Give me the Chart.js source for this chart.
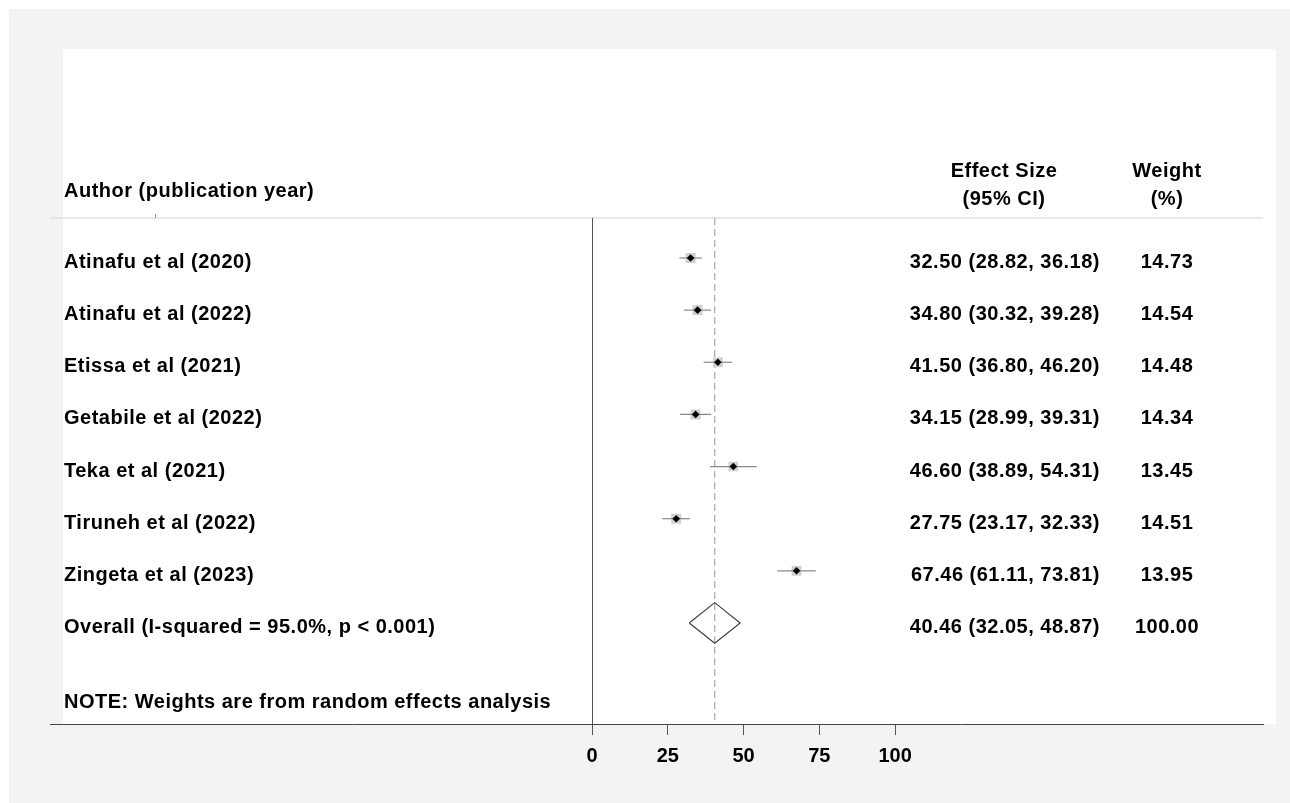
<!DOCTYPE html>
<html>
<head>
<meta charset="utf-8">
<title>Forest plot</title>
<script src="https://cdn.jsdelivr.net/npm/chart.js@4"></script>
<style>
  html, body { margin: 0; padding: 0; background: #ffffff; }
  canvas { display: block; }
</style>
</head>
<body>
<canvas id="visualization" width="1290" height="803"></canvas>
<script>
// study data
var authors = [
    'Atinafu et al (2020)',
    'Atinafu et al (2022)',
    'Etissa et al (2021)',
    'Getabile et al (2022)',
    'Teka et al (2021)',
    'Tiruneh et al (2022)',
    'Zingeta et al (2023)'
];
var estimates = [32.50, 34.80, 41.50, 34.15, 46.60, 27.75, 67.46];
var lowerCI   = [28.82, 30.32, 36.80, 28.99, 38.89, 23.17, 61.11];
var upperCI   = [36.18, 39.28, 46.20, 39.31, 54.31, 32.33, 73.81];
var weights   = [14.73, 14.54, 14.48, 14.34, 13.45, 14.51, 13.95];

var overallLabel = 'Overall (I-squared = 95.0%, p < 0.001)';
var overallEst = 40.46;
var overallLow = 32.05;
var overallHigh = 48.87;
var overallWeight = 100.00;

var noteText = 'NOTE: Weights are from random effects analysis';
var tickValues = [0, 25, 50, 75, 100];

// layout helpers
var FONT = '"Liberation Sans", Arial, Helvetica, sans-serif';
var Y_MIN = -0.767, Y_MAX = 8.938;
var overallRow = authors.length;
var noteRow = 8.48;

// build datasets
var datasets = [];

datasets.push({
    type: 'line',
    data: [{x: overallEst, y: Y_MIN}, {x: overallEst, y: Y_MAX}],
    borderColor: '#a9a9a9',
    borderWidth: 1.2,
    borderDash: [7, 4],
    pointRadius: 0,
    order: 5
});

datasets.push({
    type: 'scatter',
    data: estimates.map(function(v, i) { return {x: v, y: i}; }),
    pointStyle: 'rect',
    pointRadius: weights.map(function(w) { return Math.sqrt(w) * 1.85; }),
    backgroundColor: '#d0d0d0',
    borderWidth: 0,
    order: 4
});

estimates.forEach(function(v, i) {
    datasets.push({
        type: 'line',
        data: [{x: lowerCI[i], y: i}, {x: upperCI[i], y: i}],
        borderColor: '#8a8a8a',
        borderWidth: 1.2,
        pointRadius: 0,
        order: 3
    });
});

datasets.push({
    type: 'scatter',
    data: estimates.map(function(v, i) { return {x: v, y: i}; }),
    pointStyle: 'rectRot',
    pointRadius: 3.8,
    backgroundColor: '#000000',
    borderWidth: 0,
    order: 2
});

var dh = 0.39;
datasets.push({
    type: 'line',
    data: [
        {x: overallLow, y: overallRow},
        {x: overallEst, y: overallRow - dh},
        {x: overallHigh, y: overallRow},
        {x: overallEst, y: overallRow + dh},
        {x: overallLow, y: overallRow}
    ],
    borderColor: '#3a3a3a',
    borderWidth: 1.1,
    pointRadius: 0,
    fill: false,
    order: 1
});

var backdrop = {
    id: 'backdrop',
    beforeDraw: function(chart) {
        var ctx = chart.ctx;
        var a = chart.chartArea;
        ctx.save();
        ctx.fillStyle = '#ffffff';
        ctx.fillRect(0, 0, chart.width, chart.height);
        ctx.fillStyle = '#f3f3f3';
        ctx.fillRect(9, 9, chart.width - 9, chart.height - 9);
        ctx.fillStyle = '#ffffff';
        ctx.fillRect(63, 49, 1276 - 63, a.bottom - 49);
        // header rule
        ctx.strokeStyle = '#e2e2e2';
        ctx.lineWidth = 1.5;
        ctx.beginPath();
        ctx.moveTo(a.left, a.top);
        ctx.lineTo(a.right, a.top);
        ctx.stroke();
        ctx.strokeStyle = '#9a9a9a';
        ctx.lineWidth = 1;
        ctx.beginPath();
        ctx.moveTo(155.5, a.top - 4);
        ctx.lineTo(155.5, a.top);
        ctx.stroke();
        ctx.restore();
    }
};

var tableText = {
    id: 'tableText',
    afterDraw: function(chart) {
        var ctx = chart.ctx;
        var a = chart.chartArea;
        var ys = chart.scales.y;
        var esRight = 1100, wCenter = 1167, esCenter = 1004;
        ctx.save();
        ctx.fillStyle = '#000000';
        ctx.textBaseline = 'alphabetic';

        ctx.font = 'bold 20px ' + FONT;
        ctx.letterSpacing = '0.5px';
        ctx.textAlign = 'left';
        ctx.fillText('Author (publication year)', 64, a.top - 21);
        authors.forEach(function(name, i) {
            ctx.fillText(name, 64, ys.getPixelForValue(i) + 10);
        });
        ctx.fillText(overallLabel, 64, ys.getPixelForValue(overallRow) + 10);
        ctx.fillText(noteText, 64, ys.getPixelForValue(noteRow) + 8);

        ctx.textAlign = 'center';
        ctx.fillText('Effect Size', esCenter, a.top - 41);
        ctx.fillText('(95% CI)', esCenter, a.top - 13);
        ctx.fillText('Weight', wCenter, a.top - 41);
        ctx.fillText('(%)', wCenter, a.top - 13);

        estimates.forEach(function(v, i) {
            var y = ys.getPixelForValue(i) + 10;
            var s = v.toFixed(2) + ' (' + lowerCI[i].toFixed(2) + ', ' + upperCI[i].toFixed(2) + ')';
            ctx.textAlign = 'right';
            ctx.fillText(s, esRight, y);
            ctx.textAlign = 'center';
            ctx.fillText(weights[i].toFixed(2), wCenter, y);
        });
        var yo = ys.getPixelForValue(overallRow) + 10;
        ctx.textAlign = 'right';
        ctx.fillText(overallEst.toFixed(2) + ' (' + overallLow.toFixed(2) + ', ' + overallHigh.toFixed(2) + ')', esRight, yo);
        ctx.textAlign = 'center';
        ctx.fillText(overallWeight.toFixed(2), wCenter, yo);
        ctx.restore();
    }
};

var ctx = document.getElementById('visualization').getContext('2d');
var forestChart = new Chart(ctx, {
    type: 'scatter',
    data: { datasets: datasets },
    options: {
        responsive: false,
        animation: false,
        layout: { padding: { left: 50, right: 27, top: 218, bottom: 0 } },
        plugins: {
            legend: { display: false },
            tooltip: { enabled: false }
        },
        scales: {
            x: {
                type: 'linear',
                min: -178.9,
                max: 221.4,
                afterBuildTicks: function(scale) {
                    scale.ticks = tickValues.map(function(v) { return {value: v}; });
                },
                afterFit: function(scale) { scale.height = 79; },
                border: { color: '#444444', width: 1 },
                grid: {
                    drawOnChartArea: true,
                    color: function(c) { return c.tick && c.tick.value === 0 ? '#555555' : 'rgba(0,0,0,0)'; },
                    tickColor: '#555555',
                    tickLength: 11,
                    lineWidth: 1
                },
                ticks: {
                    color: '#000000',
                    padding: 9,
                    maxRotation: 0,
                    autoSkip: false,
                    font: { family: FONT, size: 20, weight: 'bold' },
                    callback: function(v) { return v; }
                }
            },
            y: {
                type: 'linear',
                display: false,
                reverse: true,
                min: Y_MIN,
                max: Y_MAX
            }
        }
    },
    plugins: [backdrop, tableText]
});
</script>
</body>
</html>
